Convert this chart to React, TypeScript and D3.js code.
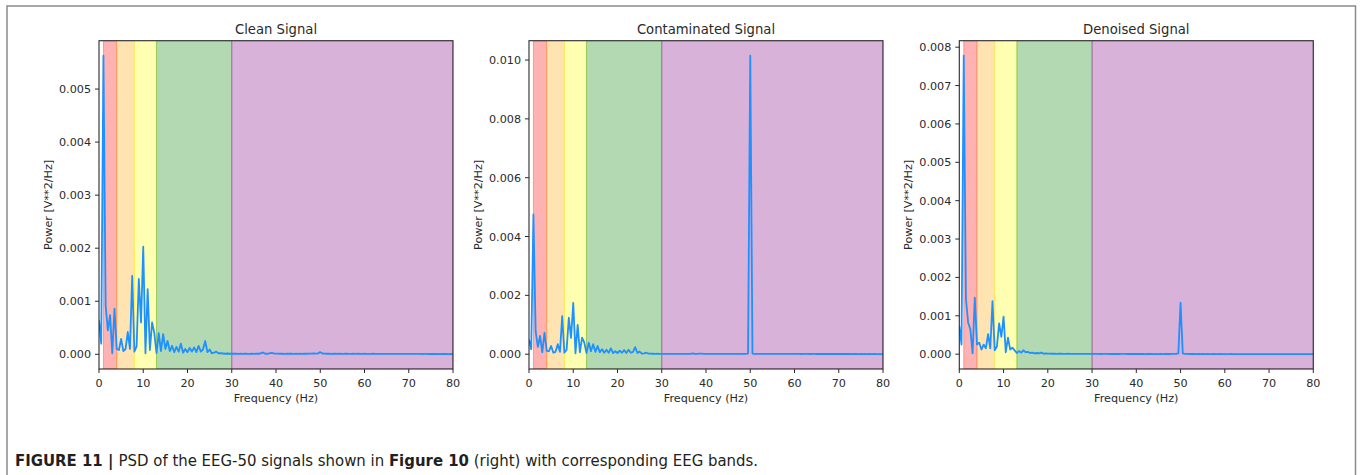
import React from "react";
import * as d3 from "d3";

// ---------- data (PSD values in units of 1e-3 V**2/Hz, 0.5 Hz resolution, 0..80 Hz) ----------
const UNIT = 1e-3;
const FREQ_STEP = 0.5;

const cleanPsd = [
  0.64, 0.20, 5.63, 0.92, 0.45, 0.74, 0.02, 0.86, 0.10, 0.08,
  0.29, 0.06, 0.10, 0.42, 0.10, 1.48, 0.05, 0.15, 1.42, 0.60,
  2.03, 0.02, 1.23, 0.08, 0.60, 0.40, 0.02, 0.40, 0.06, 0.38,
  0.10, 0.25, 0.06, 0.16, 0.04, 0.14, 0.05, 0.20, 0.03, 0.10,
  0.04, 0.12, 0.05, 0.13, 0.04, 0.16, 0.05, 0.09, 0.25, 0.04,
  0.09, 0.02, 0.03, 0.05, 0.02, 0.02, 0.015, 0.01, 0.015, 0.01,
  0.012,
  0.010, 0.012, 0.008, 0.011, 0.009, 0.013, 0.010, 0.008, 0.011, 0.009,
  0.012, 0.010, 0.015, 0.035, 0.012, 0.010, 0.018, 0.025, 0.015, 0.012,
  0.014, 0.010, 0.012, 0.009, 0.011, 0.010, 0.013, 0.009, 0.010, 0.008,
  0.011, 0.009, 0.012, 0.010, 0.013, 0.011, 0.015, 0.012, 0.018, 0.040,
  0.015, 0.012, 0.010, 0.011, 0.009, 0.012, 0.010, 0.008, 0.011, 0.009,
  0.010, 0.013, 0.009, 0.008, 0.010, 0.009, 0.011, 0.008, 0.009, 0.010,
  0.008, 0.009, 0.007, 0.010, 0.008, 0.009, 0.007, 0.008, 0.009, 0.007,
  0.008, 0.007, 0.009, 0.006, 0.008, 0.007, 0.006, 0.008, 0.007, 0.006,
  0.007, 0.006, 0.008, 0.006, 0.007, 0.005, 0.006, 0.007, 0.005, 0.006,
  0.005, 0.006, 0.005, 0.007, 0.005, 0.006, 0.005, 0.004, 0.005, 0.004,
];

const contaminatedPsd = [
  0.50, 0.17, 4.75, 0.78, 0.25, 0.62, 0.06, 0.73, 0.11, 0.10,
  0.28, 0.05, 0.08, 0.34, 0.08, 1.29, 0.05, 0.15, 1.24, 0.55,
  1.74, 0.03, 1.00, 0.06, 0.56, 0.39, 0.04, 0.39, 0.10, 0.34,
  0.08, 0.28, 0.07, 0.17, 0.05, 0.15, 0.05, 0.20, 0.04, 0.10,
  0.04, 0.12, 0.05, 0.14, 0.04, 0.15, 0.05, 0.08, 0.24, 0.04,
  0.09, 0.02, 0.03, 0.05, 0.02, 0.02, 0.015, 0.01, 0.015, 0.01,
  0.012,
  0.010, 0.011, 0.008, 0.010, 0.009, 0.012, 0.010, 0.008, 0.010, 0.009,
  0.011, 0.010, 0.014, 0.030, 0.012, 0.010, 0.016, 0.020, 0.014, 0.011,
  0.012, 0.010, 0.011, 0.009, 0.010, 0.010, 0.012, 0.009, 0.010, 0.008,
  0.010, 0.009, 0.011, 0.010, 0.012, 0.011, 0.013, 0.012, 0.020, 10.15,
  0.020, 0.012, 0.010, 0.011, 0.009, 0.011, 0.010, 0.008, 0.010, 0.009,
  0.010, 0.012, 0.009, 0.008, 0.010, 0.009, 0.010, 0.008, 0.009, 0.010,
  0.008, 0.009, 0.007, 0.009, 0.008, 0.009, 0.007, 0.008, 0.009, 0.007,
  0.008, 0.007, 0.008, 0.006, 0.008, 0.007, 0.006, 0.008, 0.007, 0.006,
  0.007, 0.006, 0.007, 0.006, 0.007, 0.005, 0.006, 0.007, 0.005, 0.006,
  0.005, 0.006, 0.005, 0.006, 0.005, 0.006, 0.005, 0.004, 0.005, 0.004,
];

const denoisedPsd = [
  0.73, 0.25, 7.78, 1.43, 0.82, 0.65, 0.02, 1.47, 0.25, 0.30,
  0.12, 0.25, 0.15, 0.52, 0.15, 1.38, 0.10, 0.20, 0.80, 0.45,
  0.98, 0.05, 0.43, 0.12, 0.17, 0.10, 0.03, 0.08, 0.04, 0.10,
  0.05, 0.06, 0.03, 0.04, 0.02, 0.03, 0.02, 0.04, 0.015, 0.02,
  0.015,
  0.012, 0.010, 0.011, 0.009, 0.010, 0.012, 0.009, 0.008, 0.010, 0.008,
  0.009, 0.007, 0.008, 0.007, 0.008, 0.006, 0.007, 0.006, 0.006, 0.005,
  0.005, 0.006, 0.005, 0.004, 0.005, 0.006, 0.005, 0.004, 0.005, 0.004,
  0.005, 0.004, 0.005, 0.006, 0.005, 0.004, 0.005, 0.004, 0.005, 0.004,
  0.004, 0.005, 0.004, 0.003, 0.004, 0.005, 0.004, 0.003, 0.004, 0.003,
  0.004, 0.003, 0.004, 0.005, 0.004, 0.005, 0.006, 0.008, 0.020, 1.34,
  0.020, 0.008, 0.005, 0.004, 0.005, 0.004, 0.003, 0.004, 0.003, 0.004,
  0.003, 0.004, 0.003, 0.003, 0.004, 0.003, 0.003, 0.004, 0.003, 0.003,
  0.003, 0.003, 0.004, 0.003, 0.002, 0.003, 0.003, 0.002, 0.003, 0.003,
  0.002, 0.003, 0.002, 0.003, 0.002, 0.002, 0.003, 0.002, 0.002, 0.003,
  0.002, 0.002, 0.003, 0.002, 0.002, 0.002, 0.003, 0.002, 0.002, 0.002,
  0.002, 0.002, 0.002, 0.003, 0.002, 0.002, 0.002, 0.002, 0.002, 0.002,
];

const bandNames = ["delta", "theta", "alpha", "beta", "gamma"];
const bandStarts = [1, 4, 8, 13, 30];
const bandEnds = [4, 8, 13, 30, 80];
const bandColors = ["#ff0000", "#ffa500", "#ffff00", "#008000", "#800080"];

const xTicks = [0, 10, 20, 30, 40, 50, 60, 70, 80];
const yTicksClean = [0, 0.001, 0.002, 0.003, 0.004, 0.005];
const yTicksContaminated = [0, 0.002, 0.004, 0.006, 0.008, 0.01];
const yTicksDenoised = [0, 0.001, 0.002, 0.003, 0.004, 0.005, 0.006, 0.007, 0.008];

const titles = ["Clean Signal", "Contaminated Signal", "Denoised Signal"];

// ---------- layout ----------
const W = 1360;
const H = 475;
const axLefts = [99, 529, 959.3];
const AX_W = 354;
const AX_TOP = 40.7;
const AX_BOTTOM = 369;
const FONT = "'DejaVu Sans', sans-serif";
const INK = "#2a2a2a";

type PanelProps = {
  idx: number;
  title: string;
  values: number[];
  yTicks: number[];
  x0: number;
};

function Panel({ idx, title, values, yTicks, x0 }: PanelProps) {
  const x1 = x0 + AX_W;
  const pts = values.map((v, i) => ({ f: i * FREQ_STEP, p: v * UNIT }));
  const ext = d3.extent(pts, (d) => d.p) as [number, number];
  const r = ext[1] - ext[0];
  const x = d3.scaleLinear().domain([0, 80]).range([x0, x1]);
  const y = d3
    .scaleLinear()
    .domain([ext[0] - 0.05 * r, ext[1] + 0.05 * r])
    .range([AX_BOTTOM, AX_TOP]);
  const line = d3
    .line<{ f: number; p: number }>()
    .x((d) => x(d.f))
    .y((d) => y(d.p));
  const clipId = `clip-${idx}`;
  const fmt = d3.format(".3f");
  const cx = (x0 + x1) / 2;
  const cy = (AX_TOP + AX_BOTTOM) / 2;
  return (
    <g>
      <defs>
        <clipPath id={clipId}>
          <rect x={x0} y={AX_TOP} width={AX_W} height={AX_BOTTOM - AX_TOP} />
        </clipPath>
      </defs>
      <rect x={x0} y={AX_TOP} width={AX_W} height={AX_BOTTOM - AX_TOP} fill="#fff" />
      <g clipPath={`url(#${clipId})`}>
        {bandNames.map((b, i) => (
          <rect
            key={b}
            x={x(bandStarts[i])}
            y={AX_TOP}
            width={x(bandEnds[i]) - x(bandStarts[i])}
            height={AX_BOTTOM - AX_TOP}
            fill={bandColors[i]}
            fillOpacity={0.3}
            stroke={bandColors[i]}
            strokeOpacity={0.3}
            strokeWidth={1}
          />
        ))}
        <path
          d={line(pts) || ""}
          fill="none"
          stroke="#1e90ff"
          strokeWidth={1.8}
          strokeLinejoin="round"
        />
      </g>
      <rect
        x={x0}
        y={AX_TOP}
        width={AX_W}
        height={AX_BOTTOM - AX_TOP}
        fill="none"
        stroke={INK}
        strokeWidth={1.1}
      />
      {xTicks.map((t) => (
        <g key={`x${t}`}>
          <line x1={x(t)} x2={x(t)} y1={AX_BOTTOM} y2={AX_BOTTOM + 4} stroke={INK} strokeWidth={1} />
          <text
            x={x(t)}
            y={AX_BOTTOM + 18}
            textAnchor="middle"
            fontFamily={FONT}
            fontSize={11.2}
            fill={INK}
          >
            {t}
          </text>
        </g>
      ))}
      {yTicks.map((t) => (
        <g key={`y${t}`}>
          <line x1={x0 - 4} x2={x0} y1={y(t)} y2={y(t)} stroke={INK} strokeWidth={1} />
          <text
            x={x0 - 8}
            y={y(t) + 4}
            textAnchor="end"
            fontFamily={FONT}
            fontSize={11.2}
            fill={INK}
          >
            {fmt(t)}
          </text>
        </g>
      ))}
      <text x={cx} y={33.5} textAnchor="middle" fontFamily={FONT} fontSize={13.2} fill={INK}>
        {title}
      </text>
      <text
        x={cx}
        y={AX_BOTTOM + 33}
        textAnchor="middle"
        fontFamily={FONT}
        fontSize={11.2}
        fill={INK}
      >
        Frequency (Hz)
      </text>
      <text
        transform={`translate(${x0 - 47},${cy}) rotate(-90)`}
        textAnchor="middle"
        fontFamily={FONT}
        fontSize={11.2}
        fill={INK}
      >
        Power [V**2/Hz]
      </text>
    </g>
  );
}

export default function App() {
  const series = [cleanPsd, contaminatedPsd, denoisedPsd];
  const ticks = [yTicksClean, yTicksContaminated, yTicksDenoised];
  return (
    <svg
      width={W}
      height={H}
      viewBox={`0 0 ${W} ${H}`}
      style={{ position: "absolute", left: 0, top: 0, background: "#fff" }}
    >
      <rect x={0} y={0} width={W} height={H} fill="#fff" />
      <path
        d={`M7,${H} L7,6 L1355.5,6 L1355.5,${H}`}
        fill="none"
        stroke="#8a8a8a"
        strokeWidth={1.5}
      />
      {series.map((s, i) => (
        <Panel key={i} idx={i} title={titles[i]} values={s} yTicks={ticks[i]} x0={axLefts[i]} />
      ))}
      <text
        x={15}
        y={466}
        fontFamily="'Liberation Sans Narrow', 'DejaVu Sans Condensed', sans-serif"
        fontSize={15.5}
        fill="#231f20"
        textLength={743}
        lengthAdjust="spacingAndGlyphs"
      >
        <tspan fontWeight="bold">FIGURE 11 | </tspan>
        <tspan>PSD of the EEG-50 signals shown in </tspan>
        <tspan fontWeight="bold">Figure 10</tspan>
        <tspan> (right) with corresponding EEG bands.</tspan>
      </text>
    </svg>
  );
}
